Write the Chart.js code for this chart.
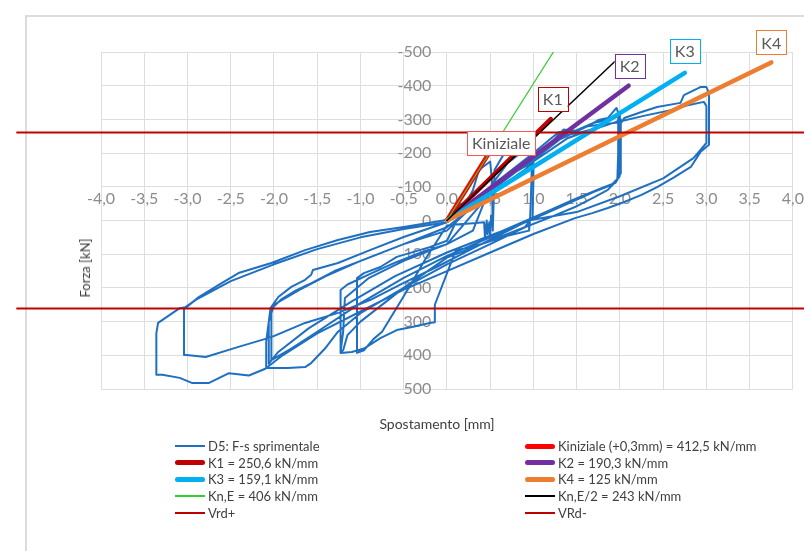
<!DOCTYPE html>
<html>
<head>
<meta charset="utf-8">
<script src="https://cdn.jsdelivr.net/npm/chart.js@4.4.1/dist/chart.umd.min.js"></script>
<style>
  body { margin: 0; background: #fff; overflow: hidden; font-family: Lato, "Open Sans", sans-serif; }
  #wrap { position: relative; width: 804px; height: 551px; overflow: hidden; }
  #frame { position: absolute; left: 25px; top: 15px; width: 900px; height: 700px; border: 2px solid #dcdcdc; }
  canvas { position: absolute; left: 0; top: 0; }
  .axtitle { position: absolute; font-size: 13px; color: #404040; white-space: nowrap; }
  .item { position: absolute; height: 16px; display: flex; align-items: center; font-size: 13px; color: #404040; white-space: nowrap; }
  .swatch { width: 30px; margin-right: 3px; }
</style>
</head>
<body>
<div id="wrap">
  <div id="frame"></div>
  <canvas id="forceChart" width="804" height="551"></canvas>
  <div class="axtitle" style="left:437px; top:423px; font-size:14px; transform: translate(-50%, -50%);">Spostamento [mm]</div>
  <div class="axtitle" style="left:85px; top:268px; transform: translate(-50%, -50%) rotate(-90deg);">Forza [kN]</div>
  <div id="legend"></div>
</div>
<script>
// D5 measured curve: displacement [mm] and force [kN] (axis drawn reversed)
const d5Disp = [
  0, 0.05, 0.15, 0.3, 0.42, 0.5, 0.53, 0.53, 0.52, 0.51, 0.5, 0.49, 0.47, 0.46, 0.44, 0.43, 0.3, 0.1, 0,
  -0.25, -0.5, -0.75, -0.85, -0.96, -1.04,
  -1.04, -1.04, -0.96, -0.77, -0.58, -0.2, 0,
  0.15, 0.3, 0.37, 0.5, 0.52, 0.53, 0.55, 0.65, 0.8, 0.95, 0.98, 0.98, 0.97, 0.96, 0.95, 0.7, 0.4, 0.1,
  -0.14, -0.14, -0.2, -0.39, -0.58, -0.77, -0.96, -1.1, -1.23,
  -1.23, -1.23, -1.15, -0.9, -0.6, -0.3, 0, 0.3,
  0.5, 0.7, 0.9, 1.0, 1.0, 0.99, 0.9, 0.5, 0, -0.5, -1.0, -1.15, -1.2, -1.23, -1.2, -1.18, -0.9, -0.5, 0,
  0.5, 0.9, 1.1, 1.29, 1.35, 1.48, 1.63, 1.75, 1.86, 1.96, 1.98, 1.98, 1.97, 1.86, 1.71, 1.48, 1.2, 0.9, 0.5, 0,
  -0.5, -1.0, -1.26, -1.41, -1.57, -1.64, -1.84, -2.09,
  -2.09, -2.06, -2.04, -1.95, -1.8, -1.64, -1.57, -1.55, -1.26, -0.89, -0.5, 0,
  0.3, 0.7, 1.0, 1.29, 1.5, 1.7, 1.9, 2.0, 2.0, 1.99, 1.9, 1.7, 1.4, 1.0, 0.5, 0,
  -0.5, -1.0, -1.5, -1.8, -2.03, -2.03, -2.03, -1.92, -1.75, -1.6, -1.3, -0.9, -0.5, 0,
  0.35, 0.75, 1.05, 1.3, 1.55, 1.75, 1.95, 2.01, 2.01, 1.95, 1.75, 1.45, 1.1, 0.6, 0,
  -0.6, -1.1, -1.6, -1.95, -2.06, -2.06, -2.0, -1.7, -1.4, -1.0, -0.5, 0,
  0.3, 0.6, 1.0, 1.3, 1.63, 2.02, 2.05, 2.25, 2.43, 2.7, 2.74, 2.93, 3.0, 3.03, 3.03, 3.03,
  2.93, 2.82, 2.63, 2.43, 2.25, 2.05, 1.86, 1.68, 1.48, 1.0, 0.5, 0,
  -0.5, -1.0, -1.5, -1.9, -2.1, -2.29, -2.52, -2.75, -2.95, -3.09, -3.29, -3.36,
  -3.36, -3.36, -3.34, -3.09, -3.01, -2.87, -2.6, -2.41, -2.03, -1.64, -1.26, -0.89, -0.5, -0.04,
  0.3, 0.6, 1.0, 1.4, 1.8, 2.3, 2.6, 2.8, 2.97, 3.0, 3.0, 2.85, 2.5, 2.0, 1.5, 0.94, 0.26,
  -0.12, -0.5, -0.89, -1.26, -1.64, -2.03, -2.41, -2.79, -3.01, -3.04,
  -3.04, -3.04, -2.9, -2.5, -2.0, -1.5, -1.0, -0.5, 0
];
const d5Force = [
  0, -28, -48, -56, -62, -68, -55, -20, 15, -15, 50, 5, 40, 0, 55, 5, 8, 12, 15,
  115, 225, 330, 352, 385, 393,
  300, 171, 156, 138, 108, 79, 60,
  -20, -90, -150, -175, -120, 30, -150, -194, -209, -239, -232, -150, -60, 0, 30, 45, 70, 90,
  250, 302, 304, 315, 325, 349, 380, 390, 393,
  300, 206, 190, 160, 125, 95, 70, 30,
  -100, -170, -210, -225, -120, -10, 20, 60, 110, 200, 300, 340, 385, 390, 330, 230, 170, 120, 70,
  -80, -150, -200, -255, -270, -265, -280, -298, -304, -334, -320, -200, -120, -91, -70, -40, -10, 20, 70, 130,
  200, 275, 330, 380, 423, 435, 438, 438,
  360, 300, 260, 227, 197, 176, 161, 147, 126, 88, 49, 5,
  -60, -140, -200, -262, -268, -290, -300, -312, -200, -130, -105, -85, -50, -5, 50, 105,
  170, 245, 330, 380, 414, 360, 262, 235, 208, 190, 150, 110, 70, 30,
  -55, -135, -195, -250, -262, -275, -292, -300, -140, -112, -92, -60, -20, 35, 95,
  165, 240, 320, 390, 425, 300, 250, 205, 165, 120, 70, 20,
  -40, -110, -180, -240, -280, -292, -304, -322, -337, -349, -372, -396, -396, -378, -300, -225,
  -203, -159, -129, -99, -76, -55, -37, -22, -7, 40, 95, 150,
  205, 270, 335, 400, 440, 460, 453, 482, 482, 467, 458, 458,
  400, 334, 304, 260, 257, 227, 185, 156, 126, 88, 58, 34, 19, 0,
  -50, -115, -175, -245, -282, -312, -328, -343, -352, -340, -230, -185, -125, -72, -25, 0, 88,
  138, 185, 236, 274, 304, 346, 375, 405, 399, 399,
  330, 260, 235, 180, 130, 85, 50, 25, 5
];

// stiffness lines: from origin to an end point
const kLabels = ["Kiniziale (+0,3mm) = 412,5 kN/mm", "K1 = 250,6 kN/mm", "K2 = 190,3 kN/mm",
  "K3 = 159,1 kN/mm", "K4 = 125 kN/mm", "Kn,E = 406 kN/mm", "Kn,E/2 = 243 kN/mm"];
const kTags = ["Kiniziale", "K1", "K2", "K3", "K4", null, null];
const kEndDisp = [0.5, 1.2, 2.1, 2.75, 3.75, 1.25, 1.95];
const kEndForce = [-206, -301, -400, -438, -469, -508, -474];

// design shear resistance lines
const vrdLabels = ["Vrd+", "VRd-"];
const vrdForce = [-261, 261];
const vrdSpan = [-4.97, 4.2];

const xRange = [-4, 4];
const yRange = [-500, 500];

const kColors = ["#ff0000", "#c00000", "#7030a0", "#00b0f0", "#ed7d31", "#33cc33", "#000000"];
const kWidths = [4.5, 4.5, 4.5, 4.5, 4.5, 1.2, 1.5];
const tagBorders = ["#f05a5a", "#c00000", "#7030a0", "#00b0f0", "#ed7d31"];
const tagOffsets = [[11, -8], [2, -20], [1, -20], [0, -22], [0, -20]];

const datasets = [];
datasets.push({
  label: "D5: F-s sprimentale",
  data: d5Disp.map((x, i) => ({ x: x, y: d5Force[i] })),
  borderColor: "#2070c2",
  borderWidth: 2,
});
kLabels.forEach((lab, i) => {
  datasets.push({
    label: lab,
    data: [{ x: 0, y: 0 }, { x: kEndDisp[i], y: kEndForce[i] }],
    borderColor: kColors[i],
    borderWidth: kWidths[i],
    tag: kTags[i],
  });
});
vrdLabels.forEach((lab, i) => {
  datasets.push({
    label: lab,
    data: [{ x: vrdSpan[0], y: vrdForce[i] }, { x: vrdSpan[1], y: vrdForce[i] }],
    borderColor: "#c00000",
    borderWidth: 2,
    clip: false,
  });
});
datasets.forEach((ds, i) => {
  ds.showLine = true;
  ds.pointRadius = 0;
  ds.borderCapStyle = "round";
  ds.borderJoinStyle = "round";
  ds.tension = 0;
  ds.order = 20 - i;
});

// boxed tags at the end of the K lines
const tagPlugin = {
  id: "kTags",
  afterDatasetsDraw(chart) {
    const ctx = chart.ctx;
    let t = 0;
    chart.data.datasets.forEach((ds, i) => {
      if (!ds.tag) return;
      const pts = chart.getDatasetMeta(i).data;
      const end = pts[pts.length - 1];
      const off = tagOffsets[t];
      ctx.save();
      ctx.font = "16px Lato, 'Open Sans', sans-serif";
      const w = ctx.measureText(ds.tag).width + 10;
      const h = 24;
      const cx = end.x + off[0], cy = end.y + off[1];
      ctx.fillStyle = "#fff";
      ctx.fillRect(cx - w / 2, cy - h / 2, w, h);
      ctx.strokeStyle = tagBorders[t];
      ctx.lineWidth = 1;
      ctx.strokeRect(Math.round(cx - w / 2) + 0.5, Math.round(cy - h / 2) + 0.5, Math.round(w), h);
      ctx.fillStyle = "#595959";
      ctx.textAlign = "center";
      ctx.textBaseline = "middle";
      ctx.fillText(ds.tag, cx, cy + 1);
      ctx.restore();
      t++;
    });
  }
};

const tickFont = { family: "Lato, 'Open Sans', sans-serif", size: 16 };

const chart = new Chart(document.getElementById("forceChart").getContext("2d"), {
  type: "scatter",
  data: { datasets: datasets },
  options: {
    responsive: false,
    animation: false,
    layout: { padding: { left: 101, right: 4, top: 52, bottom: 162 } },
    plugins: { legend: { display: false }, tooltip: { enabled: false } },
    scales: {
      x: {
        type: "linear", min: xRange[0], max: xRange[1],
        position: { y: -92 },
        ticks: {
          stepSize: 0.5, padding: 0, color: "#8c8c8c", font: tickFont,
          autoSkip: false, maxRotation: 0,
          callback: v => (Math.round(v * 10) / 10).toFixed(1).replace(".", ",")
        },
        grid: { color: "#dedede", drawTicks: false },
        border: { display: false }
      },
      y: {
        type: "linear", min: yRange[0], max: yRange[1], reverse: true,
        position: { x: -0.18 },
        ticks: { stepSize: 100, padding: 0, color: "#8c8c8c", font: tickFont, autoSkip: false },
        grid: { color: "#dedede", drawTicks: false },
        border: { display: false }
      }
    }
  },
  plugins: [tagPlugin]
});

// legend in two columns, built from the datasets
const legend = document.getElementById("legend");
chart.data.datasets.forEach((ds, i) => {
  const col = i % 2, row = Math.floor(i / 2);
  const item = document.createElement("div");
  item.className = "item";
  item.style.left = (col ? 525 : 175) + "px";
  item.style.top = (438 + row * 16.7) + "px";
  const sw = document.createElement("span");
  sw.className = "swatch";
  const thick = ds.borderWidth > 3;
  sw.style.height = (thick ? 5 : 2) + "px";
  sw.style.borderRadius = thick ? "3px" : "0";
  sw.style.background = ds.borderColor;
  const tx = document.createElement("span");
  tx.textContent = ds.label;
  item.appendChild(sw);
  item.appendChild(tx);
  legend.appendChild(item);
});
</script>
</body>
</html>
